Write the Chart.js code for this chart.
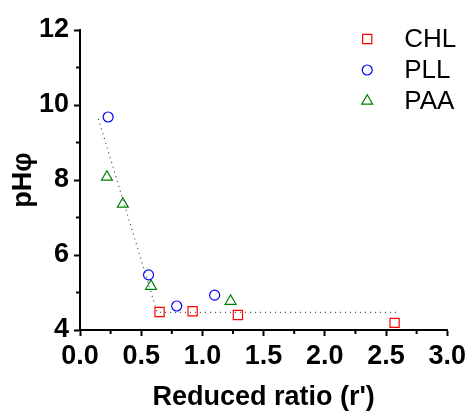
<!DOCTYPE html>
<html>
<head>
<meta charset="utf-8">
<script src="https://cdn.jsdelivr.net/npm/chart.js@4"></script>
<style>
  html, body { margin: 0; padding: 0; background: #fff; }
  #wrap { width: 470px; height: 414px; position: relative; }
</style>
</head>
<body>
<div id="wrap"><canvas id="myChart" width="470" height="414"></canvas></div>
<script>
// values
const chlX = [0.65, 0.92, 1.29, 2.57];
const chlY = [4.48, 4.50, 4.40, 4.19];
const pllX = [0.23, 0.56, 0.79, 1.10];
const pllY = [9.68, 5.47, 4.64, 4.93];
const paaX = [0.22, 0.35, 0.58, 1.23];
const paaY = [8.08, 7.36, 5.17, 4.77];
const guideX = [0.15, 0.63, 2.60];
const guideY = [9.63, 4.47, 4.47];

const xTitle = "Reduced ratio (r')";
const yTitle = 'pHφ';

const toXY = (xs, ys) => xs.map((x, i) => ({ x: x, y: ys[i] }));

const font = 'Liberation Sans, Arial, sans-serif';

// minor ticks + legend drawn with the chart scales
const extras = {
    id: 'extras',
    afterDraw(chart) {
        const ctx = chart.ctx;
        const xs = chart.scales.x, ys = chart.scales.y;
        ctx.save();
        ctx.strokeStyle = '#000';
        ctx.lineWidth = 2;
        // minor ticks
        for (let v = 0.25; v < 3; v += 0.5) {
            const px = xs.getPixelForValue(v);
            ctx.beginPath();
            ctx.moveTo(px, xs.top);
            ctx.lineTo(px, xs.top + 4);
            ctx.stroke();
        }
        for (let v = 5; v < 12; v += 2) {
            const py = ys.getPixelForValue(v);
            ctx.beginPath();
            ctx.moveTo(ys.right, py);
            ctx.lineTo(ys.right - 4, py);
            ctx.stroke();
        }
        // legend
        const sets = chart.data.datasets.filter(d => d.label);
        const lx = chart.chartArea.right - 80;
        let ly = chart.chartArea.top + 9;
        ctx.font = '26px ' + font;
        ctx.textBaseline = 'middle';
        for (const d of sets) {
            ctx.strokeStyle = d.borderColor;
            ctx.fillStyle = 'rgba(0,0,0,0)';
            ctx.lineWidth = 1.2;
            Chart.helpers.drawPoint(ctx, {
                pointStyle: d.pointStyle,
                radius: d.pointRadius,
                rotation: 0,
                borderWidth: 1.2
            }, lx, ly);
            ctx.fillStyle = '#000';
            ctx.fillText(d.label, lx + 37, ly + 1);
            ly += 31;
        }
        ctx.restore();
    }
};

const config = {
    type: 'scatter',
    data: {
        datasets: [
            {
                type: 'line',
                data: toXY(guideX, guideY),
                borderColor: '#444',
                borderWidth: 1.2,
                borderDash: [1, 4],
                pointRadius: 0,
                fill: false,
                order: 5
            },
            {
                label: 'CHL',
                data: toXY(chlX, chlY),
                pointStyle: 'rect',
                pointRadius: 6.5,
                borderColor: '#ff0000',
                backgroundColor: 'rgba(0,0,0,0)',
                pointBorderWidth: 1.2
            },
            {
                label: 'PLL',
                data: toXY(pllX, pllY),
                pointStyle: 'circle',
                pointRadius: 5,
                borderColor: '#0000ff',
                backgroundColor: 'rgba(0,0,0,0)',
                pointBorderWidth: 1.2
            },
            {
                label: 'PAA',
                data: toXY(paaX, paaY),
                pointStyle: 'triangle',
                pointRadius: 6.3,
                borderColor: '#008000',
                backgroundColor: 'rgba(0,0,0,0)',
                pointBorderWidth: 1.2
            }
        ]
    },
    options: {
        responsive: false,
        animation: false,
        layout: { padding: { top: 30, right: 20, left: 0, bottom: 0 } },
        plugins: {
            legend: { display: false },
            tooltip: { enabled: false }
        },
        scales: {
            x: {
                type: 'linear',
                min: 0,
                max: 3,
                border: { display: true, color: '#000', width: 2 },
                grid: { display: true, drawOnChartArea: false, drawTicks: true, tickLength: 6, tickColor: '#000', tickWidth: 2 },
                ticks: {
                    stepSize: 0.5,
                    color: '#000',
                    padding: 4,
                    maxRotation: 0,
                    font: { family: font, size: 27, weight: 'bold' },
                    callback: v => v.toFixed(1)
                },
                title: {
                    display: true,
                    text: xTitle,
                    color: '#000',
                    padding: { top: 0, bottom: 0 },
                    font: { family: font, size: 27, weight: 'bold' }
                },
                afterFit: s => { s.height = 84; }
            },
            y: {
                type: 'linear',
                min: 4,
                max: 12,
                border: { display: true, color: '#000', width: 2 },
                grid: { display: true, drawOnChartArea: false, drawTicks: true, tickLength: 6, tickColor: '#000', tickWidth: 2 },
                ticks: {
                    stepSize: 2,
                    color: '#000',
                    padding: 5,
                    font: { family: font, size: 27, weight: 'bold' }
                },
                title: {
                    display: true,
                    text: yTitle,
                    color: '#000',
                    padding: { top: 7, bottom: 0 },
                    font: { family: font, size: 27, weight: 'bold' }
                },
                afterFit: s => { s.width = 80; }
            }
        }
    },
    plugins: [extras]
};

new Chart(document.getElementById('myChart'), config);
</script>
</body>
</html>
